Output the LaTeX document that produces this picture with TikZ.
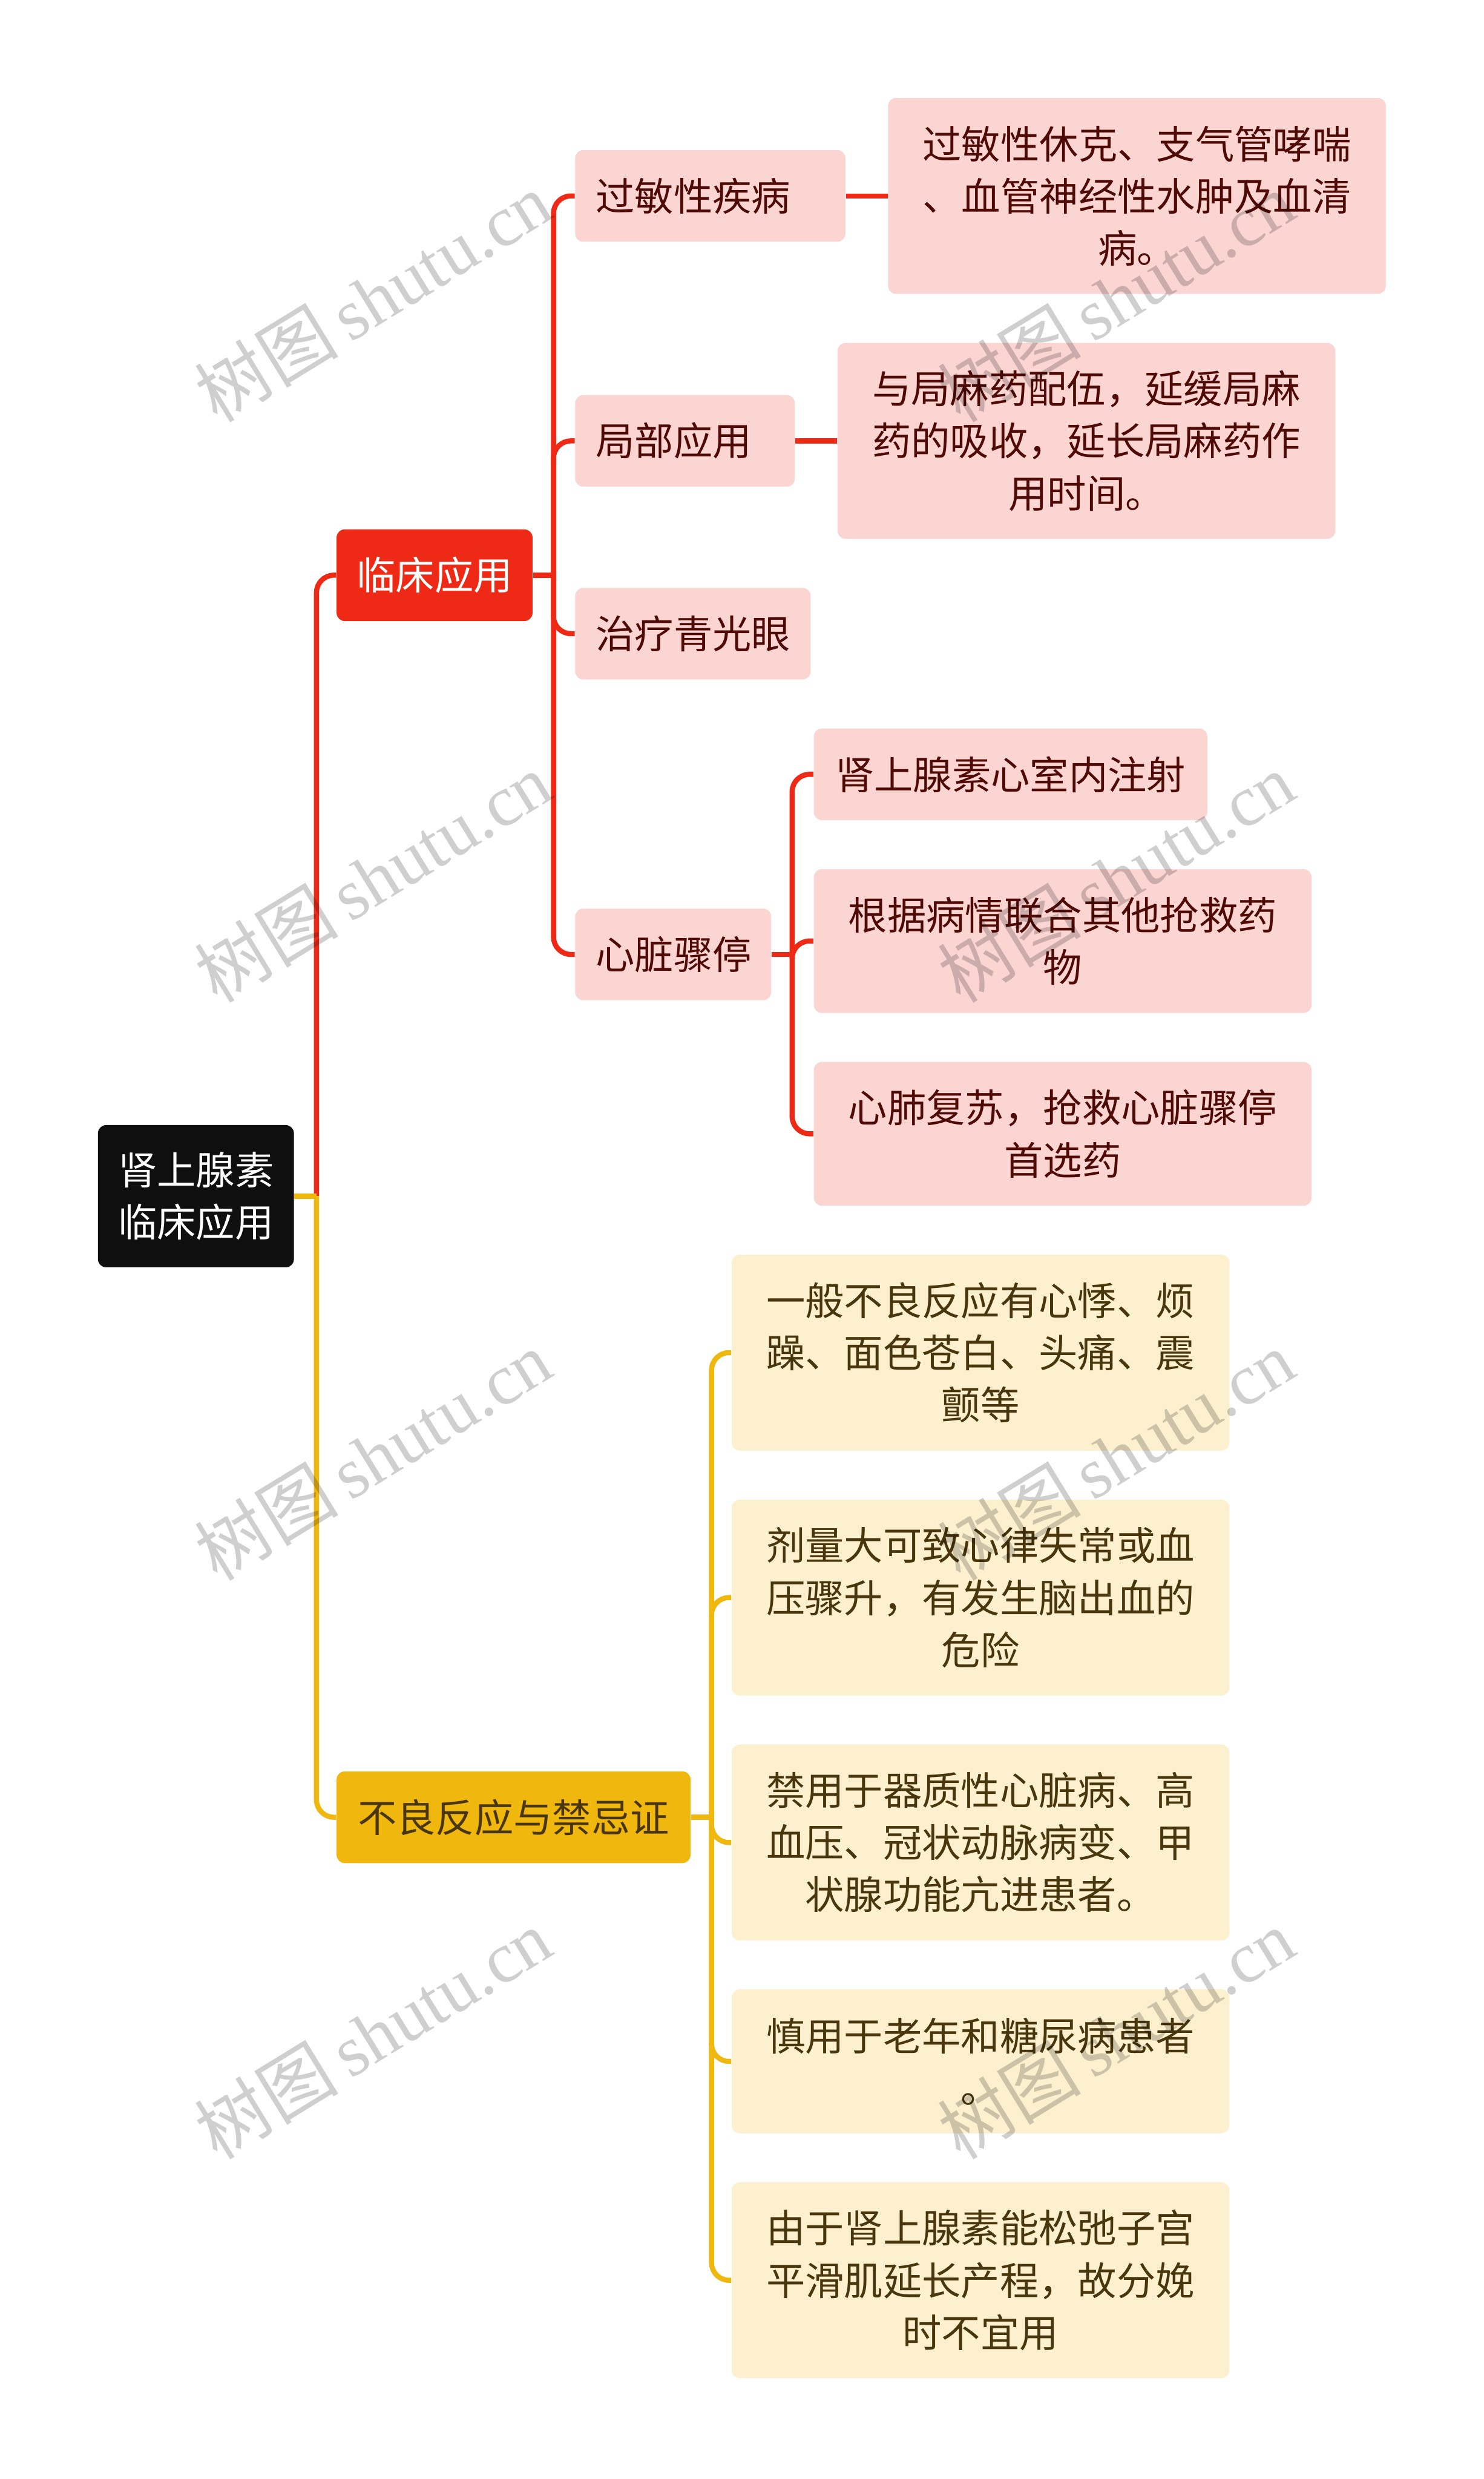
\documentclass[tikz,border=0pt]{standalone}
\usepackage{fontspec}
\setmainfont{Noto Sans CJK SC}
\newfontfamily\wmserif{Liberation Serif}
\newfontfamily\wmcjk{Noto Sans CJK SC}
\usetikzlibrary{calc}
\definecolor{cred}{HTML}{EE2A16}
\definecolor{cyel}{HTML}{F0B70E}
\definecolor{cpink}{HTML}{FBD5D2}
\definecolor{ccream}{HTML}{FCF0CF}
\definecolor{cmaroon}{HTML}{4F0A05}
\definecolor{cbrown}{HTML}{4A360C}
\definecolor{croot}{HTML}{0F0F0F}
\begin{document}
\begin{tikzpicture}[x=0.6816pt,y=-0.6816pt,
  sz/.style 2 args={minimum width=#1*0.6816pt, minimum height=#2*0.6816pt},
  leftsz/.style 2 args={minimum width=#1*0.6816pt, minimum height=#2*0.6816pt,
    align=left, text width=#1*0.6816pt-26*0.6816pt, inner xsep=13*0.6816pt},
  box/.style={rounded corners=3.5pt, inner sep=0pt, align=center,
    font=\fontsize{16.8}{22.5}\selectfont},
  rootbox/.style={box, fill=croot, text=white},
  redbox/.style={box, fill=cred, text=white},
  yelbox/.style={box, fill=cyel, text=cbrown},
  pinkbox/.style={box, fill=cpink, text=cmaroon},
  creambox/.style={box, fill=ccream, text=cbrown},
  redline/.style={draw=cred, line width=2.2pt, rounded corners=7.5pt},
  yelline/.style={draw=cyel, line width=2.2pt, rounded corners=7.5pt},
  wm/.style={rotate=31.5, text=black, text opacity=0.19, inner sep=0pt}
]
\useasboundingbox (0,0) rectangle (939,1568.8);
\fill[white] (0,0) rectangle (939,1568.8);

% nodes
\node[rootbox, sz={124}{90}] (root) at (124,757) {肾上腺素\\临床应用};
\node[redbox, sz={124}{58}] (l1) at (275,364) {临床应用};
\node[yelbox, sz={224}{58}] (l2) at (325,1150) {不良反应与禁忌证};

\node[pinkbox, leftsz={171}{58}] (a1) at (449.5,124) {过敏性疾病};
\node[pinkbox, leftsz={139}{58}] (a2) at (433.5,279) {局部应用};
\node[pinkbox, leftsz={149}{58}] (a3) at (438.5,401) {治疗青光眼};
\node[pinkbox, leftsz={124}{58}] (a4) at (426,604) {心脏骤停};

\node[pinkbox, sz={315}{124}] (b1) at (719.5,124) {过敏性休克、支气管哮喘\\、血管神经性水肿及血清\\病。};
\node[pinkbox, sz={315}{124}] (b2) at (687.5,279) {与局麻药配伍，延缓局麻\\药的吸收，延长局麻药作\\用时间。};

\node[pinkbox, sz={249}{58}] (c1) at (639.5,490) {肾上腺素心室内注射};
\node[pinkbox, sz={315}{91}] (c2) at (672.5,595.5) {根据病情联合其他抢救药\\物};
\node[pinkbox, sz={315}{91}] (c3) at (672.5,717.5) {心肺复苏，抢救心脏骤停\\首选药};

\node[creambox, sz={315}{124}] (d1) at (620.5,856) {一般不良反应有心悸、烦\\躁、面色苍白、头痛、震\\颤等};
\node[creambox, sz={315}{124}] (d2) at (620.5,1011) {剂量大可致心律失常或血\\压骤升，有发生脑出血的\\危险};
\node[creambox, sz={315}{124}] (d3) at (620.5,1166) {禁用于器质性心脏病、高\\血压、冠状动脉病变、甲\\状腺功能亢进患者。};
\node[creambox, sz={315}{91}] (d4) at (620.5,1304.5) {慎用于老年和糖尿病患者\\。};
\node[creambox, sz={315}{124}] (d5) at (620.5,1443) {由于肾上腺素能松弛子宫\\平滑肌延长产程，故分娩\\时不宜用};

% trunk coordinates
\coordinate (rt) at ($(root.east)+(14,0)$);
\coordinate (l1t) at ($(l1.east)+(13,0)$);
\coordinate (l2t) at ($(l2.east)+(13,0)$);
\coordinate (a4t) at ($(a4.east)+(13,0)$);

% connectors
\draw[redline] (rt) |- (l1.west);
\draw[yelline] (rt) |- (l2.west);
\draw[yelline] (root.east) -- (rt);

\draw[redline] (l1.east) -- (l1t);
\draw[redline] (l1t) |- (a1.west);
\draw[redline] (l1t) |- (a2.west);
\draw[redline] (l1t) |- (a3.west);
\draw[redline] (l1t) |- (a4.west);

\draw[redline] (a1.east) -- (b1.west |- a1.east);
\draw[redline] (a2.east) -- (b2.west |- a2.east);

\draw[redline] (a4.east) -- (a4t);
\draw[redline] (a4t) |- (c1.west);
\draw[redline] (a4t) |- (c2.west);
\draw[redline] (a4t) |- (c3.west);

\draw[yelline] (l2.east) -- (l2t);
\draw[yelline] (l2t) |- (d1.west);
\draw[yelline] (l2t) |- (d2.west);
\draw[yelline] (l2t) |- (d3.west);
\draw[yelline] (l2t) |- (d4.west);
\draw[yelline] (l2t) |- (d5.west);

% watermarks
\foreach \wx/\wy/\wn in {236/188/w1,236/555/w2,236/921/w3,236/1287/w4,706/188/w5,706/555/w6,706/921/w7,706/1287/w8}{
  \node[wm] (\wn) at (\wx,\wy) {\fontsize{31}{31}\selectfont\wmcjk 树图\,\wmserif shutu.cn};
}
\end{tikzpicture}
\end{document}
